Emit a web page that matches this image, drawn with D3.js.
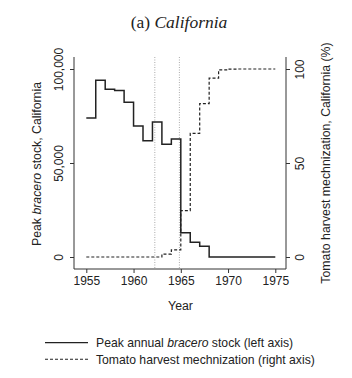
<!DOCTYPE html>
<html>
<head>
<meta charset="utf-8">
<script src="https://cdn.jsdelivr.net/npm/d3@7"></script>
<style>
  html, body { margin: 0; padding: 0; background: #fff; }
  svg { display: block; }
  text { font-family: "Liberation Sans", Arial, sans-serif; fill: #222; }
</style>
</head>
<body>
<div id="chart"></div>
<script>
const years = [1955,1956,1957,1958,1959,1960,1961,1962,1963,1964,1965,1966,1967,1968,1969,1970,1971,1972,1973,1974,1975];
const braceroStock = [74000,94000,89200,88500,82300,69700,61900,71800,60000,62800,12900,7800,5700,0,0,0,0,0,0,0,0];
const tomatoMech = [0,0,0,0,0,0,0,0,1.5,3.8,24.7,65.8,81.6,95.1,99.5,99.9,100,100,100,100,100];
const xTicks = [1955,1960,1965,1970,1975];
const leftTicks = [0,50000,100000];
const rightTicks = [0,50,100];
const eventLines = [1962.25, 1964.85];

const W = 352, H = 378;
const svg = d3.select("#chart").append("svg").attr("width", W).attr("height", H);

const x = d3.scaleLinear().domain([1955,1975]).range([86.3,275.3]);
const yL = d3.scaleLinear().domain([0,100000]).range([257,69]);
const yR = d3.scaleLinear().domain([0,100]).range([257,69]);
const plotL = 74, plotR = 286, plotT = 57, plotB = 269;

// title
const title = svg.append("text").attr("x", 179).attr("y", 27.5).attr("text-anchor","middle")
  .style("font-family", "'Liberation Serif', 'Times New Roman', serif").style("font-size","17.5px");
title.append("tspan").text("(a) ");
title.append("tspan").style("font-style","italic").text("California");

// event lines
svg.selectAll("line.ev").data(eventLines).enter().append("line")
  .attr("x1", d => x(d)).attr("x2", d => x(d)).attr("y1", plotT).attr("y2", plotB)
  .attr("stroke","#aaa").attr("stroke-width",1).attr("stroke-dasharray","1,1.5");

// frame
svg.append("path").attr("d", `M${plotL},${plotT}V${plotB}H${plotR}V${plotT}`)
  .attr("fill","none").attr("stroke","#333").attr("stroke-width",1);

// x axis
const gx = svg.append("g").attr("transform", `translate(0,${plotB})`)
  .call(d3.axisBottom(x).tickValues(xTicks).tickFormat(d3.format("d")).tickSize(4).tickPadding(3));
gx.select(".domain").remove();
gx.selectAll("line").attr("stroke","#333");
gx.selectAll("text").style("font-size","12px").style("font-family","'Liberation Sans', Arial, sans-serif").attr("fill","#222");

// left axis
const gl = svg.append("g").attr("transform", `translate(${plotL},0)`)
  .call(d3.axisLeft(yL).tickValues(leftTicks).tickFormat(d3.format(",")).tickSize(4));
gl.select(".domain").remove();
gl.selectAll("line").attr("stroke","#333");
gl.selectAll("text").attr("x", null).attr("dy", null)
  .attr("transform", "translate(-11,0) rotate(-90)")
  .attr("text-anchor","middle").attr("dy","0")
  .style("font-size","12px").style("font-family","'Liberation Sans', Arial, sans-serif").attr("fill","#222");

// right axis
const gr = svg.append("g").attr("transform", `translate(${plotR},0)`)
  .call(d3.axisRight(yR).tickValues(rightTicks).tickSize(4));
gr.select(".domain").remove();
gr.selectAll("line").attr("stroke","#333");
gr.selectAll("text").attr("x", null).attr("dy", null)
  .attr("transform", "translate(18,0) rotate(-90)")
  .attr("text-anchor","middle").attr("dy","0")
  .style("font-size","12px").style("font-family","'Liberation Sans', Arial, sans-serif").attr("fill","#222");

// axis titles
const lt = svg.append("text").attr("transform", "translate(41,164) rotate(-90)")
  .attr("text-anchor","middle").style("font-size","12.3px");
lt.append("tspan").text("Peak ");
lt.append("tspan").style("font-style","italic").text("bracero");
lt.append("tspan").text(" stock, California");

svg.append("text").attr("transform", "translate(330,163) rotate(-90)")
  .attr("text-anchor","middle").style("font-size","12.3px")
  .text("Tomato harvest mechnization, California (%)");

svg.append("text").attr("x", 180.5).attr("y", 310).attr("text-anchor","middle")
  .style("font-size","12.3px").text("Year");

// lines
const braceroLine = d3.line().x((d,i) => x(years[i])).y(d => yL(d)).curve(d3.curveStepAfter);
const mechLine = d3.line().x((d,i) => x(years[i])).y(d => yR(d)).curve(d3.curveStepAfter);

svg.append("path").attr("d", mechLine(tomatoMech)).attr("fill","none")
  .attr("stroke","#222").attr("stroke-width",1.2).attr("stroke-dasharray","3,2");
svg.append("path").attr("d", braceroLine(braceroStock)).attr("fill","none")
  .attr("stroke","#222").attr("stroke-width",1.5);

// legend
const leg = svg.append("g");
leg.append("line").attr("x1",45).attr("x2",88).attr("y1",342.7).attr("y2",342.7)
  .attr("stroke","#222").attr("stroke-width",1.3);
leg.append("line").attr("x1",45).attr("x2",88).attr("y1",359.3).attr("y2",359.3)
  .attr("stroke","#222").attr("stroke-width",1.1).attr("stroke-dasharray","3,2");
const l1 = leg.append("text").attr("x",96).attr("y",347).style("font-size","12.2px");
l1.append("tspan").text("Peak annual ");
l1.append("tspan").style("font-style","italic").text("bracero");
l1.append("tspan").text(" stock (left axis)");
leg.append("text").attr("x",96).attr("y",363.5).style("font-size","12.2px")
  .text("Tomato harvest mechnization (right axis)");
</script>
</body>
</html>
